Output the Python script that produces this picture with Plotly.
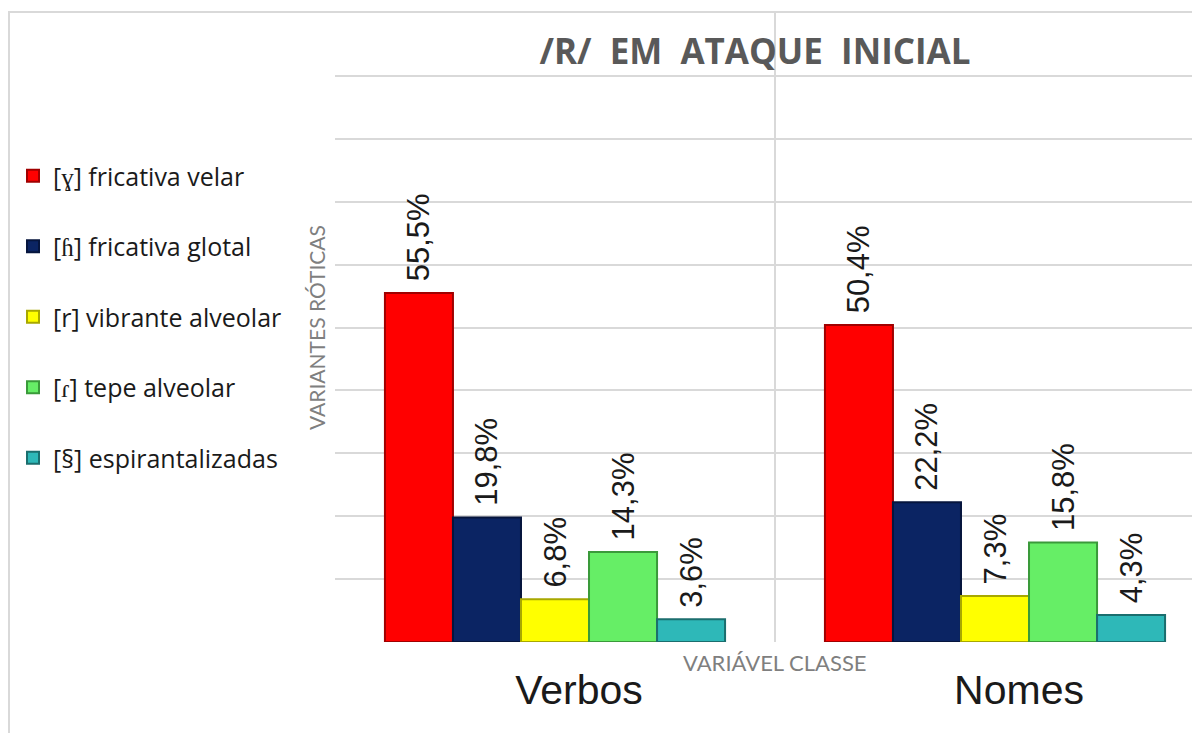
import plotly.graph_objects as go

categories = ["Verbos", "Nomes"]
series_names = [
    "[ɣ] fricativa velar",
    "[ɦ] fricativa glotal",
    "[r] vibrante alveolar",
    "[ɾ] tepe alveolar",
    "[§] espirantalizadas",
]
velar = [55.5, 50.4]
glotal = [19.8, 22.2]
vibrante = [6.8, 7.3]
tepe = [14.3, 15.8]
espir = [3.6, 4.3]
series_values = [velar, glotal, vibrante, tepe, espir]
colors = ["#FF0000", "#0B2463", "#FFFF00", "#66EE66", "#2EB8B8"]
edge_colors = ["#A00000", "#06153D", "#A8A800", "#3A9A3A", "#1B6E6E"]

# page body has an 8px margin, so figure coords = screen coords - 8
W, H = 1192, 725
plot_left, plot_right, plot_top, plot_bottom = 327, 1192, 5, 634
pw = plot_right - plot_left
ph = plot_bottom - plot_top
cat_px = 440.0

fig = go.Figure()
for i, (name, vals) in enumerate(zip(series_names, series_values)):
    fig.add_trace(go.Bar(
        x=categories, y=vals, name=name,
        marker=dict(color=colors[i], line=dict(color=edge_colors[i], width=2)),
        texttemplate="\u00a0%{y:.1f}%",
        textposition="outside", textangle=-90,
        textfont=dict(family="Liberation Sans, Arial", size=31, color="#1a1a1a"),
        constraintext="none", cliponaxis=False,
        legendgroup=f"g{i}",
    ))

fig.update_layout(
    width=W, height=H,
    margin=dict(l=plot_left, r=W - plot_right, t=plot_top, b=H - plot_bottom),
    paper_bgcolor="white", plot_bgcolor="white",
    barmode="group", bargap=0.227, bargroupgap=0,
    separators=",.",
    title=dict(text="<b>/R/  EM  ATAQUE  INICIAL</b>", x=747 / W, xref="container", xanchor="center",
               y=1 - 44 / H, yref="container", yanchor="middle",
               font=dict(family="Open Sans", size=35, color="#595959")),
    legend=dict(x=(5 - plot_left) / pw, xanchor="left", y=(plot_bottom - 145) / ph, yanchor="top",
                font=dict(family="Open Sans", size=25, color="#1a1a1a"),
                tracegroupgap=35, bgcolor="rgba(0,0,0,0)"),
    showlegend=True,
)
fig.update_xaxes(
    range=[-0.5, -0.5 + pw / cat_px], showgrid=True, gridcolor="#d9d9d9", gridwidth=2,
    tickson="boundaries", ticks="", showline=False, zeroline=False,
    tickfont=dict(family="Liberation Sans Narrow, Arial Narrow, Liberation Sans", size=41, color="#1a1a1a"),
    ticklabelstandoff=20, ticklabelshift=24,
)
fig.update_yaxes(
    range=[0, 100], dtick=10, showgrid=True, gridcolor="#d9d9d9", gridwidth=2,
    showticklabels=False, zeroline=False, showline=False,
    title=dict(text="VARIANTES RÓTICAS", standoff=2, font=dict(family="Lato", size=21, color="#7f7f7f")),
)
fig.add_annotation(text="VARIÁVEL CLASSE", x=0.5, xref="x", y=(plot_bottom - 654) / ph, yref="paper",
                   showarrow=False, font=dict(family="Lato", size=22, color="#7f7f7f"),
                   xanchor="center", yanchor="middle")
fig.add_shape(type="rect", xref="paper", yref="paper",
              x0=(1 - plot_left) / pw, x1=1.2, y0=-0.5, y1=(plot_bottom - 4) / ph,
              line=dict(color="#d9d9d9", width=2), layer="below")

fig.write_html("out.html")
